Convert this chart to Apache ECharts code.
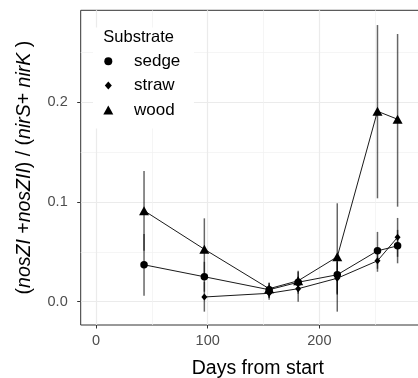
<!DOCTYPE html>
<html>
<head>
<meta charset="utf-8">
<script src="https://cdn.jsdelivr.net/npm/echarts@6/dist/echarts.min.js"></script>
<style>html,body{margin:0;padding:0;background:#fff;}#chart{width:418px;height:378px;}</style>
</head>
<body>
<div id="chart"></div>
<script>
// ---- data ----
const days = [43, 97, 155, 181, 216, 252, 270];
const sedge     = [0.037, 0.025, 0.012, 0.0195, 0.027, 0.051, 0.056];
const sedgeLow  = [0.006, 0.010, 0.004, 0.008, 0.008, 0.033, 0.0385];
const sedgeHigh = [0.068, 0.040, 0.019, 0.031, 0.045, 0.070, 0.072];
const straw     = [null, 0.0047, 0.0084, 0.013, 0.0235, 0.041, 0.0646];
const strawLow  = [null, -0.010, 0.002, 0.000, 0.007, 0.030, 0.045];
const strawHigh = [null, 0.020, 0.015, 0.025, 0.040, 0.052, 0.084];
const wood      = [0.0913, 0.0526, 0.013, 0.021, 0.045, 0.191, 0.183];
const woodLow   = [0.051, 0.022, 0.004, 0.010, -0.010, 0.1037, 0.0953];
const woodHigh  = [0.131, 0.0836, 0.019, 0.030, 0.0987, 0.2775, 0.2685];
const xTicks = [0, 100, 200];
const xMinor = [50, 150, 250];
const yTicks = [0, 0.1, 0.2];
const yMinor = [0.05, 0.15, 0.25];

const FONT = "'Liberation Sans', Arial, Helvetica, sans-serif";

function pts(ys) { return days.map((d, i) => ys[i] == null ? null : [d, ys[i]]).filter(p => p); }
function bars(lo, hi) { return days.map((d, i) => lo[i] == null ? null : [d, lo[i], hi[i]]).filter(p => p); }

const allBars = [].concat(bars(woodLow, woodHigh), bars(sedgeLow, sedgeHigh), bars(strawLow, strawHigh));

const chart = echarts.init(document.getElementById('chart'), null, { renderer: 'canvas' });

const X_MIN = -13.7, X_MAX = 303.5, Y_MIN = -0.0234, Y_MAX = 0.2923;
const gridCfg = { left: 80.7, top: 10.3, width: 354.3, height: 314.7, show: true, borderColor: '#333333', borderWidth: 1, backgroundColor: 'transparent', containLabel: false, outerBoundsMode: 'none' };

function legendFor(name, icon, w, h, cy) {
  const cx = 108.3;
  const left = cx - w / 2;
  return {
    data: [{ name: name, icon: icon }],
    left: left, top: cy - h / 2 - 4,
    padding: 0,
    itemWidth: w, itemHeight: h,
    selectedMode: false,
    z: 6,
    itemStyle: { color: '#000' },
    textStyle: { fontFamily: FONT, fontSize: 17, color: '#000', lineHeight: 6, padding: [0, 0, 0, 134 - (cx + w / 2 + 5)] }
  };
}

const option = {
  animation: false,
  backgroundColor: '#fff',
  title: {
    text: 'Substrate',
    left: 93, top: 27.5,
    padding: [1, 20, 83, 10.3],
    backgroundColor: '#fff',
    z: 3,
    textStyle: { fontFamily: FONT, fontSize: 16.5, fontWeight: 'normal', color: '#000' }
  },
  legend: [
    legendFor('sedge', 'circle', 8, 8, 60.7),
    legendFor('straw', 'diamond', 7, 8, 85),
    legendFor('wood', 'triangle', 10, 9, 110)
  ],
  grid: gridCfg,
  xAxis: [{
    type: 'value', min: X_MIN, max: X_MAX,
    name: 'Days from start', nameLocation: 'middle', nameGap: 34,
    nameTextStyle: { fontFamily: FONT, fontSize: 19.5, color: '#000' },
    axisLine: { show: false, onZero: false },
    axisTick: { show: true, length: 3.5, lineStyle: { color: '#333', width: 1 }, customValues: xTicks },
    axisLabel: { fontFamily: FONT, fontSize: 14.5, color: '#4d4d4d', margin: 8, customValues: xTicks },
    splitLine: { show: true, lineStyle: { color: '#ebebeb', width: 1.2 } }
  }, {
    type: 'value', min: X_MIN, max: X_MAX, position: 'bottom',
    axisLine: { show: false, onZero: false },
    axisTick: { show: false, customValues: xMinor },
    axisLabel: { show: false, customValues: xMinor },
    splitLine: { show: true, lineStyle: { color: '#f0f0f0', width: 0.7 } }
  }],
  yAxis: [{
    type: 'value', min: Y_MIN, max: Y_MAX,
    name: '({i|nosZI} +{i|nosZII}) / ({i|nirS}+ {i|nirK} )',
    nameLocation: 'middle', nameGap: 46,
    nameTextStyle: { fontFamily: FONT, fontSize: 19.5, color: '#000', rich: { i: { fontFamily: FONT, fontSize: 19.5, fontStyle: 'italic', color: '#000' } } },
    axisLine: { show: false, onZero: false },
    axisTick: { show: true, length: 3.5, lineStyle: { color: '#333', width: 1 }, customValues: yTicks },
    axisLabel: { fontFamily: FONT, fontSize: 14.5, color: '#4d4d4d', margin: 13, customValues: yTicks, formatter: v => v.toFixed(1) },
    splitLine: { show: true, lineStyle: { color: '#ebebeb', width: 1.2 } }
  }, {
    type: 'value', min: Y_MIN, max: Y_MAX, position: 'left',
    axisLine: { show: false, onZero: false },
    axisTick: { show: false, customValues: yMinor },
    axisLabel: { show: false, customValues: yMinor },
    splitLine: { show: true, lineStyle: { color: '#f0f0f0', width: 0.7 } }
  }],
  series: [
    {
      type: 'custom', name: 'err', xAxisIndex: 0, yAxisIndex: 0, z: 1,
      data: allBars,
      renderItem: function (params, api) {
        const a = api.coord([api.value(0), api.value(1)]);
        const b = api.coord([api.value(0), api.value(2)]);
        return { type: 'line', shape: { x1: a[0], y1: a[1], x2: b[0], y2: b[1] }, style: { stroke: 'rgba(0,0,0,0.6)', lineWidth: 1.5 } };
      },
      silent: true
    },
    {
      type: 'line', name: 'sedge', data: pts(sedge), z: 2,
      symbol: 'circle', symbolSize: 7.5, showAllSymbol: true,
      lineStyle: { color: '#000', width: 0.9 }, itemStyle: { color: '#000' }
    },
    {
      type: 'line', name: 'straw', data: pts(straw), z: 2,
      symbol: 'diamond', symbolSize: [6, 7], showAllSymbol: true,
      lineStyle: { color: '#000', width: 0.9 }, itemStyle: { color: '#000' }
    },
    {
      type: 'line', name: 'wood', data: pts(wood), z: 2,
      symbol: 'triangle', symbolSize: [10, 9], showAllSymbol: true,
      lineStyle: { color: '#000', width: 0.9 }, itemStyle: { color: '#000' }
    }
  ]
};
chart.setOption(option);
</script>
</body>
</html>
